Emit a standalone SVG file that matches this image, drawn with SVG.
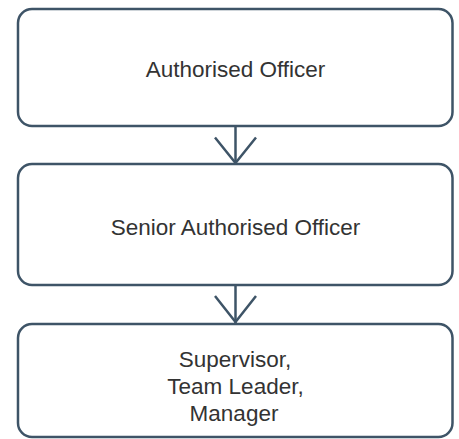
<svg xmlns="http://www.w3.org/2000/svg" width="459" height="439" viewBox="0 0 459 439">
  <style>
    .box { fill: #ffffff; stroke: #3e5467; stroke-width: 2.5; }
    .label { font-family: "Liberation Sans", Arial, sans-serif; font-size: 22.5px; fill: #333333; text-anchor: middle; }
    .link { fill: none; stroke: #3e5467; stroke-width: 2.5; stroke-linecap: butt; stroke-linejoin: miter; }
  </style>
  <rect width="459" height="439" fill="#ffffff"/>

  <g id="connectors">
    <path class="link" d="M235.5 126 V164"/>
    <path class="link" d="M215 137.5 L235.5 163 L256 137.5"/>
    <path class="link" d="M235.5 285 V324"/>
    <path class="link" d="M215 296 L235.5 322 L256 296"/>
  </g>

  <g id="authorised-officer">
    <rect class="box" x="18" y="9" width="434.5" height="117" rx="14"/>
    <text class="label" x="235.5" y="76.5">Authorised Officer</text>
  </g>

  <g id="senior-authorised-officer">
    <rect class="box" x="18" y="164" width="434.5" height="121" rx="14"/>
    <text class="label" x="235.5" y="235">Senior Authorised Officer</text>
  </g>

  <g id="supervisor-team-leader-manager">
    <rect class="box" x="18" y="324" width="434.5" height="113" rx="14"/>
    <text class="label" x="235" y="367">Supervisor,</text>
    <text class="label" x="235.5" y="394">Team Leader,</text>
    <text class="label" x="234" y="421">Manager</text>
  </g>
</svg>
